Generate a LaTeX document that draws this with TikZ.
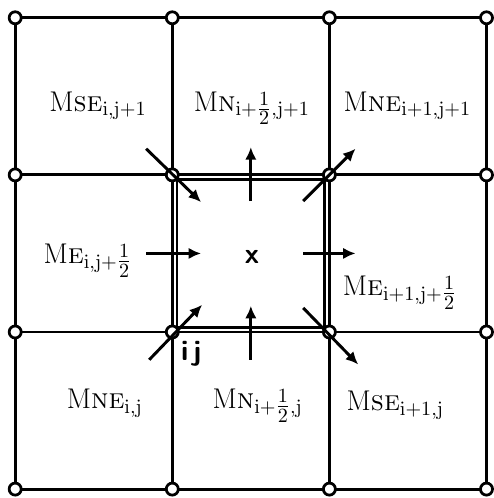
\documentclass[tikz,border=0pt]{standalone}
\usepackage{tikz}
\usetikzlibrary{arrows.meta,calc}
\newcommand{\mlab}[2]{M\textsc{#1}$_{\mathrm{#2}}$}
\newcommand{\hlf}{\smash{\textstyle\frac{1}{2}}}

\begin{document}
\begin{tikzpicture}[>={Latex[length=2.4mm,width=2.2mm]},font=\fontsize{15.5}{18}\selectfont,
  gridline/.style={line width=1.6pt},
  knot/.style={circle,draw,fill=white,line width=1.5pt,inner sep=0pt,minimum size=2.3mm},
  flux/.style={->,line width=1.6pt}]
\useasboundingbox (-0.29,-0.17) rectangle (9.13,9.34);
% grid points
\foreach \i in {0,...,3}{\foreach \j in {0,...,3}{\coordinate (g\i\j) at (3*\i,3*\j);}}
% mesh lines
\foreach \k in {0,...,3}{
  \draw[gridline] (g\k0) -- (g\k3);
  \draw[gridline] (g0\k) -- (g3\k);}
% inner rim of the control volume
\draw[gridline] ($(g11)+(0.09,0.09)$) rectangle ($(g22)+(-0.09,-0.09)$);
% mesh nodes
\foreach \i in {0,...,3}{\foreach \j in {0,...,3}{\node[knot] (n\i\j) at (g\i\j) {};}}
% edge midpoints of the control volume
\coordinate (eN) at ($(g12)!0.5!(g22)$);
\coordinate (eS) at ($(g11)!0.5!(g21)$);
\coordinate (eW) at ($(g11)!0.5!(g12)$);
\coordinate (eE) at ($(g21)!0.5!(g22)$);
% fluxes through the corners
\draw[flux] ($(g12)+(-0.5,0.5)$) -- ($(g12)+(0.55,-0.52)$);
\draw[flux] ($(g22)+(-0.5,-0.5)$) -- ($(g22)+(0.5,0.5)$);
\draw[flux] ($(g11)+(-0.44,-0.53)$) -- ($(g11)+(0.57,0.52)$);
\draw[flux] ($(g21)+(-0.5,0.46)$) -- ($(g21)+(0.55,-0.62)$);
% fluxes through the edges
\draw[flux] ($(eN)+(0,-0.5)$) -- ($(eN)+(0,0.53)$);
\draw[flux] ($(eS)+(0,-0.53)$) -- ($(eS)+(0,0.5)$);
\draw[flux] ($(eW)+(-0.5,0)$) -- ($(eW)+(0.55,0)$);
\draw[flux] ($(eE)+(-0.5,0)$) -- ($(eE)+(0.5,0)$);
% labels
\node (mseA) at (1.58,7.32) {\mlab{se}{i,j+1}};
\node (mnA) at (4.52,7.32) {\mlab{n}{i+\hlf,j+1}};
\node (mneA) at (7.49,7.32) {\mlab{ne}{i+1,j+1}};
\node (meA) at (1.39,4.41) {\mlab{e}{i,j+\hlf}};
\node (meB) at (7.35,3.80) {\mlab{e}{i+1,j+\hlf}};
\node (mneB) at (1.71,1.64) {\mlab{ne}{i,j}};
\node (mnB) at (4.63,1.64) {\mlab{n}{i+\hlf,j}};
\node (mseB) at (7.26,1.60) {\mlab{se}{i+1,j}};
\node (ctr) at (4.52,4.43) {\textsf{\textbf{x}}};
\node (ij) at (3.36,2.58) {\textsf{\textbf{i\,j}}};
\end{tikzpicture}
\end{document}
